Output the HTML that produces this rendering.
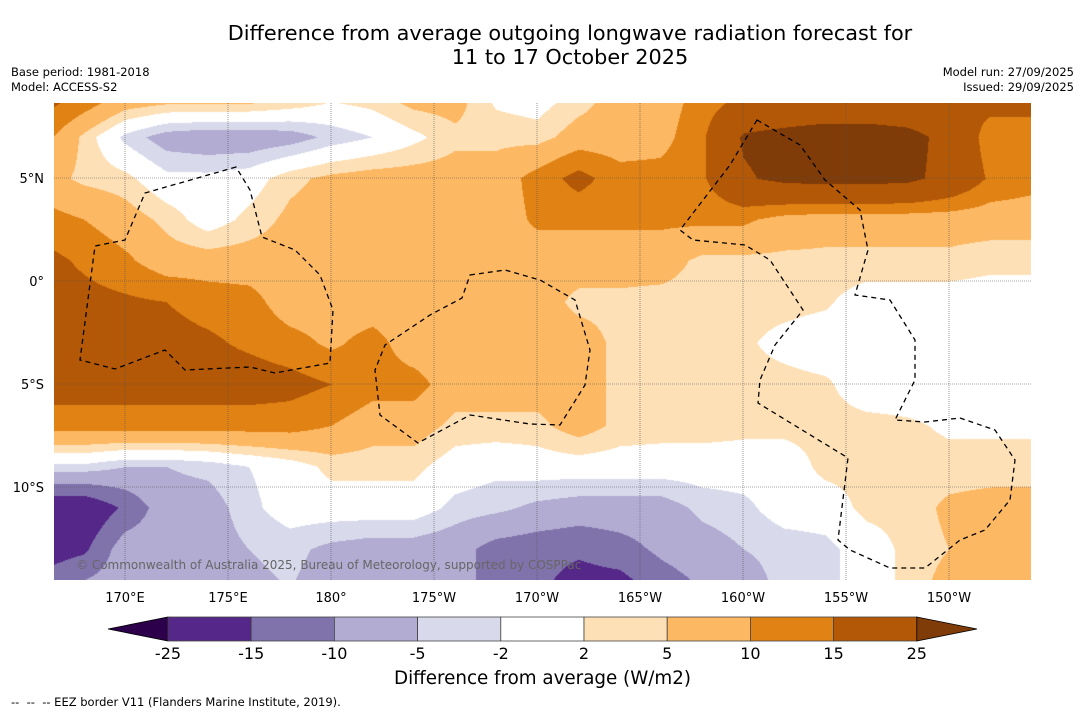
<!DOCTYPE html>
<html><head><meta charset="utf-8"><style>
body{margin:0;background:#fff;font-family:"DejaVu Sans","Liberation Sans",sans-serif;}
#root{position:relative;width:1085px;height:713px;overflow:hidden;background:#fff;}
.t{position:absolute;white-space:nowrap;color:#000;}
</style></head><body>
<div id="root">
<div class="t" style="left:0;width:1140px;top:21px;text-align:center;font-size:20.8px;line-height:24px;">Difference from average outgoing longwave radiation forecast for<br>11 to 17 October 2025</div>
<div class="t" style="left:11px;top:65px;font-size:11.5px;line-height:15px;">Base period: 1981-2018<br>Model: ACCESS-S2</div>
<div class="t" style="right:11px;top:65px;font-size:11.5px;line-height:15px;text-align:right;">Model run: 27/09/2025<br>Issued: 29/09/2025</div>
<canvas id="map" width="977" height="477" style="position:absolute;left:54px;top:103px;"></canvas>
<svg id="ov" width="1085" height="713" style="position:absolute;left:0;top:0;"></svg>
<div class="t" style="left:76px;top:558px;font-size:12px;color:#666;">© Commonwealth of Australia 2025, Bureau of Meteorology, supported by COSPPac</div>
<div class="t" style="left:0;width:1085px;text-align:center;top:668px;font-size:18.3px;">Difference from average (W/m2)</div>
<div class="t" style="left:11px;top:695px;font-size:11.5px;">--&nbsp; --&nbsp; -- EEZ border V11 (Flanders Marine Institute, 2019).</div>
</div>
<script>
const lons=[166,168,170,172,174,176,178,180,182,184,186,188,190,192,194,196,198,200,202,204,206,208,210,212,214];
const lats=[9,7,5,3,1,-1,-3,-5,-7,-9,-11,-13,-15];
const grid=[
[18,14,9,8,8,8,6,3,4,7,7,1,0,3,7,7,12,15,15,15,15,15,15,18,18],
[12,4,-3,-7,-8,-8,-7,-4,-2,1,4,4,3.5,7,7,8,14,26,28,30,30,28,22,12,12],
[7,4,3,-1,-1,0,4,6,7,7,7,7,12,17,12,12,14,24,27,28,28,27,22,14,12],
[12,10,7,4,0,3,6,7,7,7,7,7,11,11,11,11,11,11,8,7,7,7,7,7,7],
[17,14,11,7,7,7,7,7,7,7,7,7,7,7,7,7,4,4,4,4,4,4,4,3,3],
[18,17,16,15,13,12,7,7,7,7,7,7,7,4,4,3.5,3.5,3,3,2.5,0,0,0,0,0],
[25,18,18,17,16,14,12,9,12,7,7,7,7,7,4,3.5,3.5,2.5,1,0,0,0,0,0,0],
[18,18,18,18,18,18,17,15,12,12,7,7,7,7,4,3.5,3.5,3,3,2.5,0,0,0,0,1],
[12,12,12,12,12,12,12,10,7,7,4,4,4,7,4,3.5,3.5,3,3,3,3,2.5,1.5,1.5,1.5],
[-3,-3,-5,-5,-4,-2,0,3,3,3,0,-1,0,0,0,0,0,0,0,3,3,3,3,3,3],
[-20,-20,-14,-7,-7,-3,0,0,0,0,-3,-4,-6,-7,-7,-7,-4,-3,0,0,3,3,6,7,7],
[-18,-16,-7,-7,-7,-5,-4,-6,-7,-7,-8,-12,-13,-14,-12,-9,-7,-5,-4,-3,0,3,5,7,7],
[-12,-8,-7,-7,-7,-6,-5,-7,-7,-7,-8,-12,-14,-18,-18,-13,-10,-7,-4,-3,0,3,7,8,8]];
const levels=[-25,-15,-10,-5,-2,2,5,10,15,25];
const colors=['#2d004b','#542788','#8073ac','#b2abd2','#d8daeb','#ffffff','#fee0b6','#fdb863','#e08214','#b35806','#7f3b08'];
const lonTicks=[170,175,180,185,190,195,200,205,210];
const lonLabels=['170°E','175°E','180°','175°W','170°W','165°W','160°W','155°W','150°W'];
const latTicks=[5,0,-5,-10];
const latLabels=['5°N','0°','5°S','10°S'];
const PX=20.6;
function xs(lon){return 125+(lon-170)*PX;}
function ys(lat){return 281-lat*PX;}
const cv=document.getElementById('map'),ctx=cv.getContext('2d');
const img=ctx.createImageData(977,477);
const rgb=colors.map(c=>[parseInt(c.substr(1,2),16),parseInt(c.substr(3,2),16),parseInt(c.substr(5,2),16)]);
for(let py=0;py<477;py++){
 const lat=(281-(py+103))/PX;
 let fr=(lats[0]-lat)/2; fr=Math.max(0,Math.min(lats.length-1.001,fr));
 const r0=Math.floor(fr),tr=fr-r0;
 for(let px=0;px<977;px++){
  const lon=170+((px+54)-125)/PX;
  let fc=(lon-lons[0])/2; fc=Math.max(0,Math.min(lons.length-1.001,fc));
  const c0=Math.floor(fc),tc=fc-c0;
  const v=(grid[r0][c0]*(1-tc)+grid[r0][c0+1]*tc)*(1-tr)+(grid[r0+1][c0]*(1-tc)+grid[r0+1][c0+1]*tc)*tr;
  let i=0;while(i<levels.length&&v>=levels[i])i++;
  const k=(py*977+px)*4,c=rgb[i];
  img.data[k]=c[0];img.data[k+1]=c[1];img.data[k+2]=c[2];img.data[k+3]=255;
 }
}
ctx.putImageData(img,0,0);
const svg=document.getElementById('ov'),NS='http://www.w3.org/2000/svg';
function mk(t,a,p){const e=document.createElementNS(NS,t);for(const k in a)e.setAttribute(k,a[k]);(p||svg).appendChild(e);return e;}
lonTicks.forEach((l,i)=>{
 const g=mk('line',{x1:xs(l),x2:xs(l),y1:103,y2:580,stroke:'#555','stroke-width':0.6,'stroke-dasharray':'1,1'});
 
 
 const t=mk('text',{x:xs(l),y:602,'text-anchor':'middle','font-size':13,'font-family':'DejaVu Sans, sans-serif'});
 t.textContent=lonLabels[i];
 
 
});
latTicks.forEach((l,i)=>{
 const g=mk('line',{x1:54,x2:1031,y1:ys(l),y2:ys(l),stroke:'#555','stroke-width':0.6,'stroke-dasharray':'1,1'});
 
 
 const t=mk('text',{x:44,y:ys(l)+5,'text-anchor':'end','font-size':13,'font-family':'DejaVu Sans, sans-serif'});
 t.textContent=latLabels[i];
 
 
});
const eez=["M236,167 L145,193 L125,240 L95,246 L80,360 L115,369 L165,350 L185,370 L250,367 L275,373 L330,363 L333,310 L320,275 L295,250 L262,237 L250,190 Z",
"M470,275 L505,270 L540,280 L575,300 L590,350 L585,385 L560,425 L530,424 L470,415 L418,443 L380,415 L375,370 L385,345 L430,315 L462,298 Z",
"M757,120 L730,165 L680,230 L693,240 L745,245 L770,260 L803,310 L775,345 L760,380 L758,403 L848,458 L838,540 L850,550 L890,568 L925,568 L960,540 L985,530 L1010,500 L1015,460 L995,430 L960,418 L925,422 L895,420 L915,380 L915,340 L890,300 L855,295 L868,250 L860,210 L825,180 L800,145 Z"];
eez.forEach(d=>{const p=mk('path',{d:d,fill:'none',stroke:'#000','stroke-width':1.3,'stroke-dasharray':'5,4'});
 
 });
const cbX=168,cbW=83.2,cbY=617,cbH=24;
const lo=mk('polygon',{points:`108,629 ${cbX},${cbY} ${cbX},${cbY+cbH}`,fill:colors[0],stroke:'#000','stroke-width':0.8});


for(let i=1;i<colors.length-1;i++){
 const r=mk('rect',{x:cbX+(i-1)*cbW,y:cbY,width:cbW,height:cbH,fill:colors[i],stroke:'#444','stroke-width':0.8});
 
 
}
const endX=cbX+9*cbW;
const hi=mk('polygon',{points:`${endX},${cbY} 977,629 ${endX},${cbY+cbH}`,fill:colors[10],stroke:'#000','stroke-width':0.8});


levels.forEach((l,i)=>{const t=mk('text',{x:cbX+i*cbW,y:659,'text-anchor':'middle','font-size':16,'font-family':'DejaVu Sans, sans-serif'});
 t.textContent=String(l);
 
 });
</script>
</body></html>
